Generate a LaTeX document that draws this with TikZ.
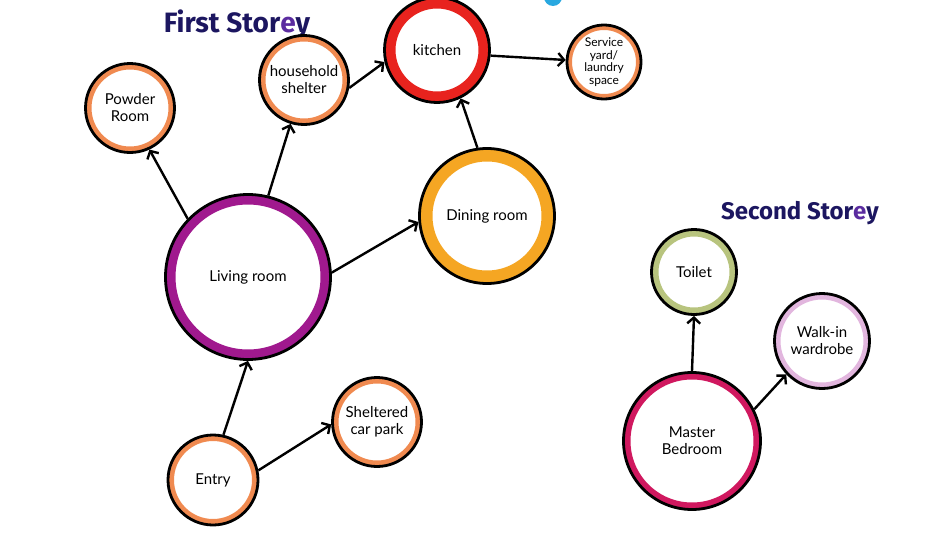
\documentclass[tikz,border=0pt]{standalone}
\usepackage{fontspec}
\setmainfont{Lato}
\newfontfamily\titlefont{Fira Sans}
\usepackage{xcolor}
\usetikzlibrary{arrows.meta, positioning, calc}

\definecolor{inkblue}{HTML}{1C1660}
\definecolor{inkviolet}{HTML}{5B2CA0}
\definecolor{ringorange}{HTML}{F08A50}
\definecolor{ringred}{HTML}{E8231E}
\definecolor{ringamber}{HTML}{F5A623}
\definecolor{ringpurple}{HTML}{A0198E}
\definecolor{ringgreen}{HTML}{B8C47E}
\definecolor{ringlilac}{HTML}{E2B6DE}
\definecolor{ringmagenta}{HTML}{D0185F}
\definecolor{cyandot}{HTML}{29A8E0}

\begin{document}
\begin{tikzpicture}[
    x=1pt, y=-1pt,
    every node/.style={font=\fontsize{15}{17}\selectfont},
    room/.style 2 args={circle, draw=black, line width=2.8pt, fill=white, align=center, inner sep=0pt,
        path picture={\draw[#1, line width=#2] let \p1=($(path picture bounding box.east)-(path picture bounding box.center)$) in (path picture bounding box.center) circle (\x1);}},
    storey/.style={font=\titlefont\bfseries\fontsize{24}{28}\selectfont, text=inkblue},
    link/.style={-{Straight Barb[length=6pt, width=13pt]}, line width=2.4pt}
]
    \useasboundingbox (0,0) rectangle (932,541);
    \fill[cyandot] (553,-3) circle (9);

    % Titles
    \node[storey, font=\titlefont\bfseries\fontsize{28}{32}\selectfont] (first) at (237,24) {First Stor\textcolor{inkviolet}{e}y};
    \node[storey] (second) at (800,213) {Second Stor\textcolor{inkviolet}{e}y};

    % First storey rooms
    \node[room={ringorange}{12pt}, minimum size=89] (powder) at (130,108) {Powder\\Room};
    \node[room={ringorange}{12pt}, minimum size=89] (shelter) at (304,80) {household\\shelter};
    \node[room={ringred}{22pt}, minimum size=105] (kitchen) at (437,50) {kitchen};
    \node[room={ringorange}{10pt}, minimum size=74, font=\fontsize{12}{12.5}\selectfont] (service) at (604,62) {Service\\yard/\\laundry\\space};
    \node[room={ringamber}{26pt}, minimum size=135] (dining) at (487,216) {Dining room};
    \node[room={ringpurple}{20pt}, minimum size=165] (living) at (248,277) {Living room};
    \node[room={ringorange}{12pt}, minimum size=90] (entry) at (213,480) {Entry};
    \node[room={ringorange}{12pt}, minimum size=89] (carpark) at (377,422) {Sheltered\\car park};

    % Second storey rooms
    \node[room={ringgreen}{14pt}, minimum size=85] (toilet) at (694,272) {Toilet};
    \node[room={ringlilac}{12pt}, minimum size=95] (wardrobe) at (822,341) {Walk-in\\wardrobe};
    \node[room={ringmagenta}{14pt}, minimum size=137] (master) at (692,441) {Master\\Bedroom};

    % Links
    \draw[link] (living.136) -- (powder.-65);
    \draw[link] (living.76) -- (shelter.-107);
    \draw[link] (living.3) -- (dining.185);
    \draw[link] (shelter.-10) -- (kitchen.193);
    \draw[link] (dining.98) -- (kitchen.-64);
    \draw[link] (kitchen.-6) -- (service.177);
    \draw[link] (entry.77) -- (living.-90);
    \draw[link] (entry.12) -- (carpark.183);
    \draw[link] (master.90) -- (toilet.-90);
    \draw[link] (master.27) -- (wardrobe.-137);
\end{tikzpicture}
\end{document}
